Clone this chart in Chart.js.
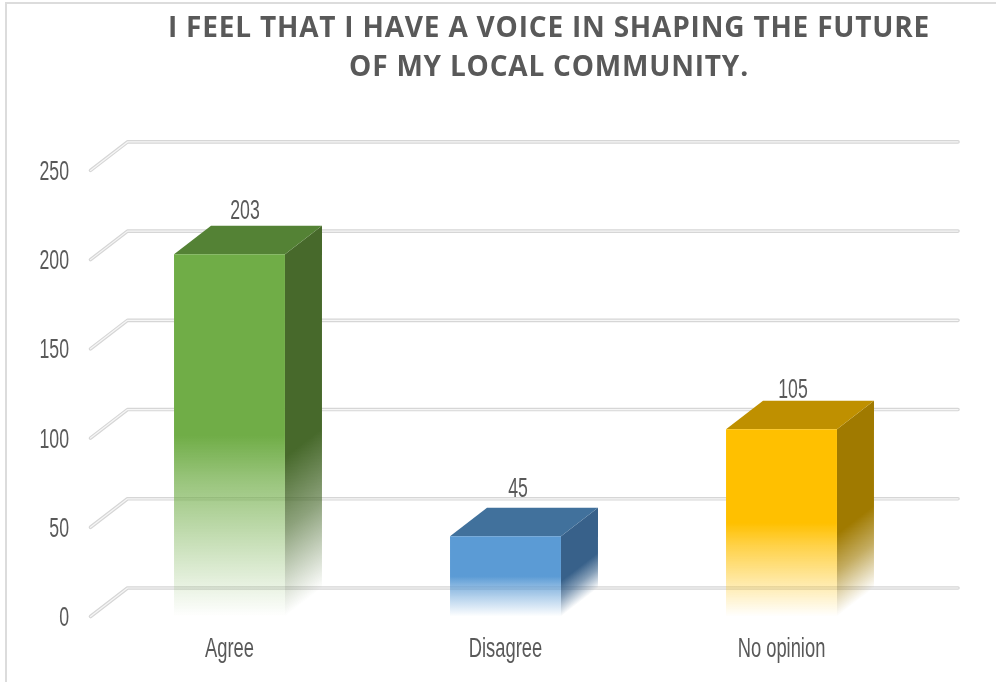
<!DOCTYPE html>
<html>
<head>
<meta charset="utf-8">
<title>Local community voice</title>
<script src="https://cdn.jsdelivr.net/npm/chart.js@4"></script>
<style>
html,body{margin:0;padding:0;background:#fff;overflow:hidden}
#wrap{position:relative;width:996px;height:682px}
#frame{position:absolute;left:5px;top:2px;right:0;bottom:0;border-left:2px solid #dcdcdc;border-top:2px solid #dcdcdc;pointer-events:none}
canvas{position:absolute;left:0;top:0}
</style>
</head>
<body>
<div id="wrap"><div id="frame"></div><canvas id="c" width="996" height="682"></canvas></div>
<script>
const titleLines = ["I FEEL THAT I HAVE A VOICE IN SHAPING THE FUTURE", "OF MY LOCAL COMMUNITY."];
const categories = ["Agree", "Disagree", "No opinion"];
const responses = [203, 45, 105];
const frontColors = ["#70ad47", "#5b9bd5", "#ffc000"];
const topColors = ["#548235", "#41719c", "#bf9000"];
const sideColors = ["#47692b", "#38618a", "#a07a00"];
const yTicks = [0, 50, 100, 150, 200, 250];
const valueLabelShiftX = [15.5, 12.5, 11.5];
const valueLabelShiftY = [44, 48, 40];

const DEPTH_X = 37, DEPTH_Y = 28.5;
const LABEL_FONT = '"Liberation Sans Narrow", "Liberation Sans", sans-serif';
const LABEL_SCALE = 0.655;
const TITLE_SHIFT = 43.5;

function rgba(hex, a) {
  const n = parseInt(hex.slice(1), 16);
  return `rgba(${n >> 16},${(n >> 8) & 255},${n & 255},${a})`;
}
function fadeFront(g, color) {
  g.addColorStop(0, color);
  g.addColorStop(0.5, color);
  g.addColorStop(0.62, rgba(color, 0.72));
  g.addColorStop(0.82, rgba(color, 0.34));
  g.addColorStop(1, rgba(color, 0));
  return g;
}
function fadeSide(g, color) {
  g.addColorStop(0, color);
  g.addColorStop(0.56, color);
  g.addColorStop(0.76, rgba(color, 0.62));
  g.addColorStop(0.9, rgba(color, 0.26));
  g.addColorStop(1, rgba(color, 0));
  return g;
}
function narrowText(ctx, text, x, y, align, size) {
  ctx.save();
  ctx.translate(x, y);
  ctx.scale(LABEL_SCALE, 1);
  ctx.font = `${size}px ${LABEL_FONT}`;
  ctx.fillStyle = "#595959";
  ctx.textAlign = align;
  ctx.textBaseline = "middle";
  ctx.fillText(text, 0, 0);
  ctx.restore();
}

const depthPlugin = {
  id: "depth",
  afterLayout(chart) {
    chart.titleBlock.left += TITLE_SHIFT;
    chart.titleBlock.right += TITLE_SHIFT;
  },
  beforeDraw(chart) {
    chart.ctx.letterSpacing = "0.8px";
  },
  beforeDatasetsDraw(chart) {
    const { ctx, scales: { y }, chartArea: a } = chart;
    ctx.letterSpacing = "0px";
    // back-wall grid lines with their floor stubs
    ctx.save();
    ctx.lineCap = "round";
    ctx.lineJoin = "round";
    yTicks.forEach(v => {
      const py = y.getPixelForValue(v);
      const path = () => {
        ctx.beginPath();
        ctx.moveTo(a.left - 1, py);
        ctx.lineTo(a.left - 1 + DEPTH_X, py - DEPTH_Y);
        ctx.lineTo(a.right + DEPTH_X + 1.5, py - DEPTH_Y);
      };
      path(); ctx.strokeStyle = "#d6d6d6"; ctx.lineWidth = 3.6; ctx.stroke();
      path(); ctx.strokeStyle = "#f6f6f6"; ctx.lineWidth = 1.2; ctx.stroke();
    });
    ctx.restore();
    // side and top faces
    const meta = chart.getDatasetMeta(0);
    meta.data.forEach((bar, i) => {
      const w = bar.width, r = bar.x + w / 2, l = bar.x - w / 2, t = bar.y, b = bar.base;
      const h = b - t, nl = Math.hypot(DEPTH_X, DEPTH_Y);
      const nx = DEPTH_Y / nl, ny = DEPTH_X / nl, d = h * ny;
      const side = ctx.createLinearGradient(r, t, r + nx * d, t + ny * d);
      fadeSide(side, sideColors[i]);
      ctx.beginPath();
      ctx.moveTo(r, t);
      ctx.lineTo(r + DEPTH_X, t - DEPTH_Y);
      ctx.lineTo(r + DEPTH_X, b - DEPTH_Y);
      ctx.lineTo(r, b);
      ctx.closePath();
      ctx.fillStyle = side;
      ctx.fill();
      ctx.beginPath();
      ctx.moveTo(l, t);
      ctx.lineTo(l + DEPTH_X, t - DEPTH_Y);
      ctx.lineTo(r + DEPTH_X, t - DEPTH_Y);
      ctx.lineTo(r, t);
      ctx.closePath();
      ctx.fillStyle = topColors[i];
      ctx.fill();
    });
  },
  afterDatasetsDraw(chart) {
    const { ctx, scales: { x, y }, chartArea: a } = chart;
    const meta = chart.getDatasetMeta(0);
    meta.data.forEach((bar, i) => {
      narrowText(ctx, String(responses[i]), bar.x + valueLabelShiftX[i], bar.y - valueLabelShiftY[i] + 1, "center", 27);
    });
    y.ticks.forEach(t => {
      narrowText(ctx, String(t.value), 69, y.getPixelForValue(t.value) + 2, "right", 27);
    });
    categories.forEach((c, i) => {
      narrowText(ctx, c, x.getPixelForValue(i), a.bottom + 33, "center", 28);
    });
  }
};

new Chart(document.getElementById("c"), {
  type: "bar",
  data: {
    labels: categories,
    datasets: [{
      data: responses,
      barPercentage: 1,
      categoryPercentage: 0.402,
      borderWidth: 0,
      backgroundColor(ctx) {
        const color = frontColors[ctx.dataIndex];
        const ya = ctx.chart.scales.y;
        if (!ya || ctx.dataIndex === undefined) return color;
        const top = ya.getPixelForValue(responses[ctx.dataIndex]);
        const bottom = ya.getPixelForValue(0);
        if (!isFinite(top) || !isFinite(bottom)) return color;
        return fadeFront(ctx.chart.ctx.createLinearGradient(0, top, 0, bottom), color);
      }
    }]
  },
  options: {
    responsive: false,
    animation: false,
    layout: { padding: { left: 91.5, right: 76.5, top: 0, bottom: 65.5 } },
    plugins: {
      legend: { display: false },
      tooltip: { enabled: false },
      title: {
        display: true,
        text: titleLines,
        color: "#595959",
        align: "center",
        font: { family: '"Open Sans", sans-serif', weight: "bold", size: 28, lineHeight: 1.4 },
        padding: { top: 9.5, bottom: 82.5 }
      }
    },
    scales: {
      x: { display: false },
      y: { display: false, min: 0, max: 250, afterBuildTicks(s) { s.ticks = yTicks.map(value => ({ value })); } }
    }
  },
  plugins: [depthPlugin]
});
</script>
</body>
</html>
